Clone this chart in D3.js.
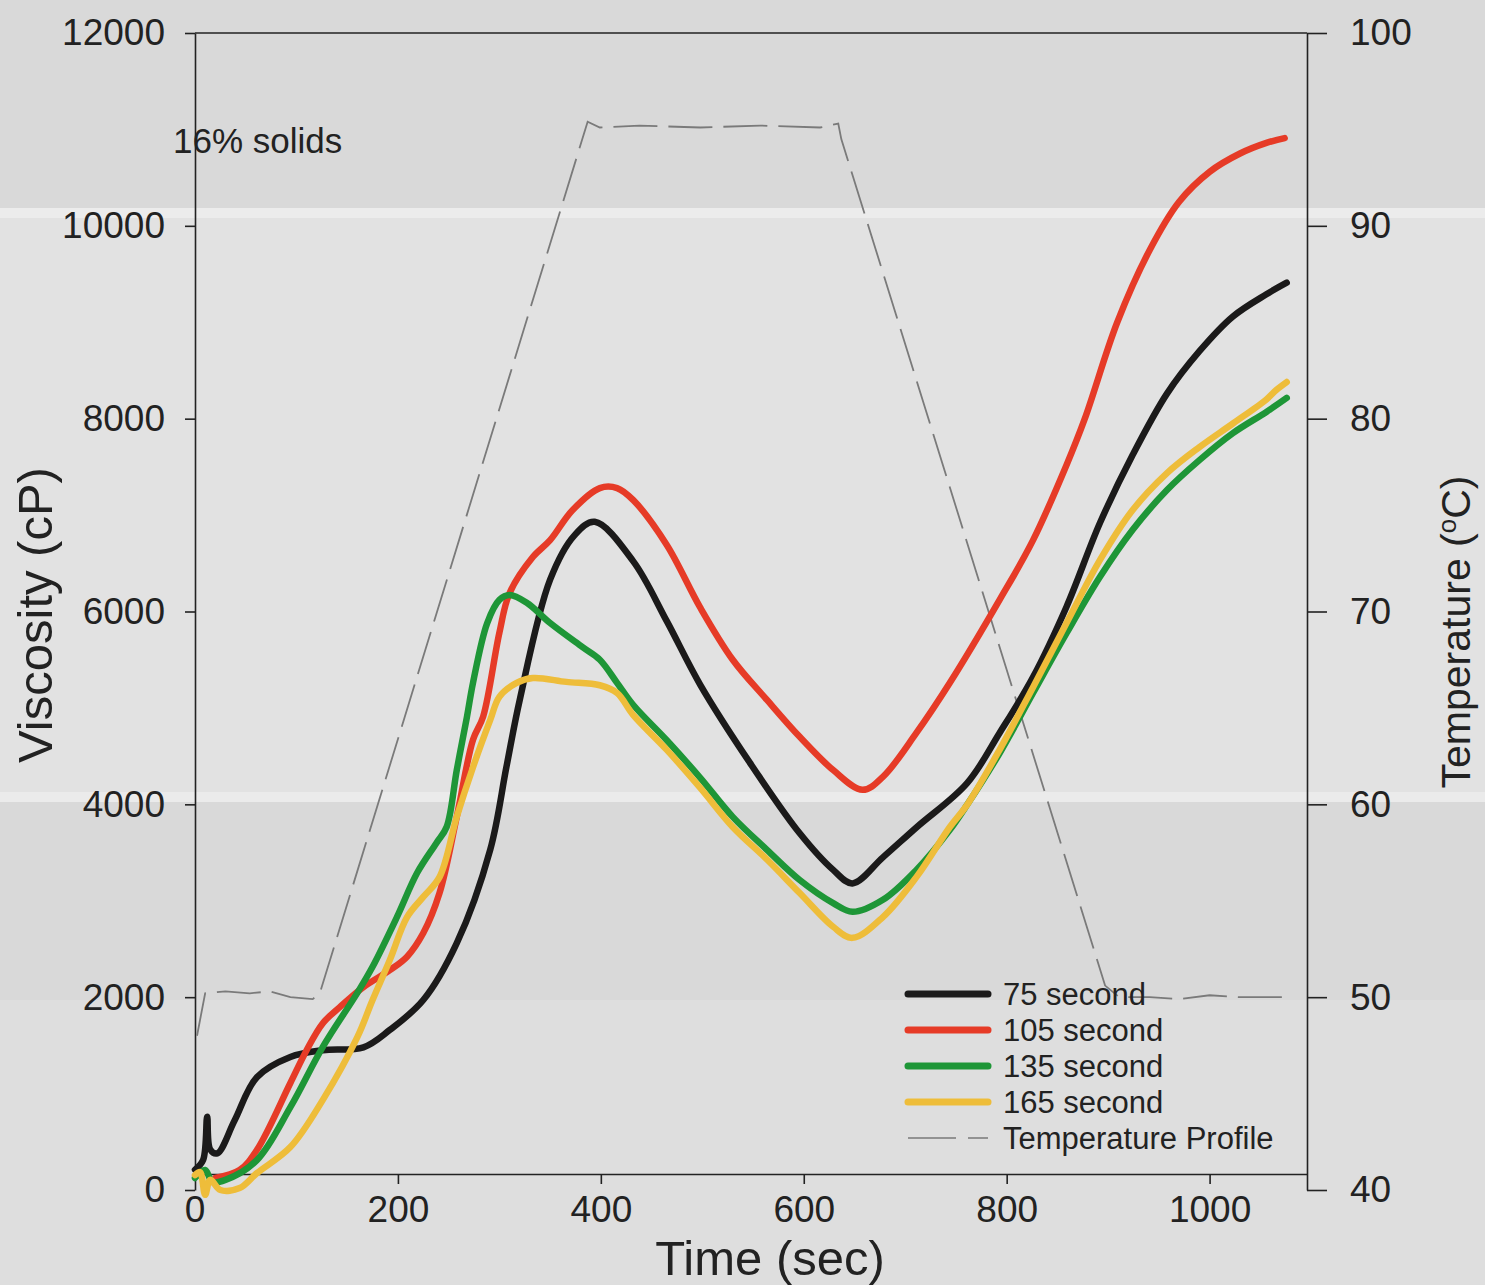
<!DOCTYPE html>
<html>
<head>
<meta charset="utf-8">
<script src="https://cdn.jsdelivr.net/npm/d3@7"></script>
<style>
  html, body { margin: 0; padding: 0; background: #dadada; }
  svg { display: block; font-family: "Liberation Sans", Arial, sans-serif; }
</style>
</head>
<body>
<div id="chart"></div>
<script>
// viscosity curves, [time (sec), viscosity (cP)]
const s75 = [[0,210],[8,310],[12,760],[15,420],[22,380],[39,720],[61,1170],[94,1380],[126,1450],[166,1480],[192,1660],[225,1970],[258,2560],[291,3530],[307,4390],[320,5080],[350,6330],[374,6790],[394,6930],[432,6520],[465,5900],[498,5240],[547,4430],[596,3700],[629,3320],[648,3180],[678,3450],[711,3760],[761,4220],[793,4740],[826,5320],[859,6050],[892,6920],[924,7620],[958,8260],[990,8700],[1023,9060],[1056,9290],[1076,9410]];
const s105 = [[20,125],[44,207],[61,415],[94,1110],[110,1450],[126,1730],[143,1900],[166,2105],[192,2280],[209,2420],[225,2665],[241,3080],[258,3870],[274,4670],[284,4910],[300,5780],[310,6190],[333,6565],[350,6740],[372,7050],[399,7280],[416,7280],[432,7155],[465,6690],[498,6040],[530,5500],[564,5080],[596,4700],[629,4355],[658,4150],[678,4285],[711,4740],[744,5260],[793,6120],[826,6740],[859,7520],[877,8000],[909,9000],[941,9750],[970,10250],[1000,10560],[1030,10750],[1056,10860],[1074,10910]];
const s135 = [[0,125],[10,207],[17,85],[30,105],[61,310],[94,860],[126,1485],[160,2045],[175,2315],[199,2830],[219,3290],[238,3600],[248,3765],[258,4355],[268,4905],[274,5260],[288,5880],[300,6120],[310,6170],[327,6090],[350,5880],[382,5630],[399,5500],[416,5260],[432,5030],[465,4665],[498,4275],[530,3870],[564,3525],[596,3215],[629,2975],[648,2885],[678,3010],[711,3320],[744,3735],[761,3995],[793,4530],[826,5155],[859,5775],[892,6360],[924,6845],[958,7260],[990,7570],[1023,7850],[1056,8070],[1076,8215]];
const s165 = [[0,155],[5,185],[10,-50],[15,105],[25,0],[44,20],[61,175],[94,445],[126,935],[160,1585],[175,1970],[192,2385],[209,2830],[225,3040],[241,3245],[258,3870],[274,4385],[291,4875],[300,5115],[317,5260],[333,5310],[366,5270],[399,5235],[416,5155],[432,4925],[465,4565],[498,4170],[530,3765],[564,3425],[596,3080],[629,2730],[648,2615],[678,2830],[711,3245],[744,3765],[761,3995],[793,4565],[826,5215],[859,5880],[892,6535],[924,7050],[958,7435],[990,7705],[1023,7950],[1056,8200],[1066,8300],[1076,8380]];
// temperature profile, [time (sec), temperature (°C)]
const temp = [[2,48.0],[10,50.2],[30,50.3],[54,50.2],[74,50.3],[94,50.0],[116,49.9],[123,50.2],[387,95.4],[399,95.1],[438,95.2],[498,95.1],[557,95.2],[616,95.1],[634,95.3],[637,94.5],[897,50.6],[911,50.0],[941,50.0],[970,49.9],[1000,50.1],[1030,50.0],[1079,50.0]];

const seriesNames = ["75 second", "105 second", "135 second", "165 second"];
const seriesColors = ["#1b1a1a", "#e63b27", "#1e9637", "#eebd3a"];
const viscTicks = [0, 2000, 4000, 6000, 8000, 10000, 12000];
const timeTicks = [0, 200, 400, 600, 800, 1000];
const tempTicks = [40, 50, 60, 70, 80, 90, 100];

const W = 1485, H = 1285;
const plotLeft = 195, plotRight = 1307, plotTop = 33, plotBottom = 1190, xAxisY = 1174;

const svg = d3.select("#chart").append("svg")
  .attr("width", W).attr("height", H);

// scanned page background
svg.append("rect").attr("width", W).attr("height", H).attr("fill", "#d9d9d9");
svg.append("rect").attr("x", 0).attr("y", 208).attr("width", W).attr("height", 594).attr("fill", "#e2e2e2");
svg.append("rect").attr("x", 0).attr("y", 208).attr("width", W).attr("height", 10).attr("fill", "#ececec");
svg.append("rect").attr("x", 0).attr("y", 792).attr("width", W).attr("height", 10).attr("fill", "#ebebeb");
svg.append("rect").attr("x", 0).attr("y", 1000).attr("width", W).attr("height", 285).attr("fill", "#dedede");

const x = d3.scaleLinear().domain([0, 1096]).range([plotLeft, plotRight]);
const y = d3.scaleLinear().domain([0, 12000]).range([plotBottom, plotTop]);
const yT = d3.scaleLinear().domain([40, 100]).range([plotBottom, plotTop]);

// axes
const fmt = d3.format("d");
const gl = svg.append("g").attr("transform", `translate(${plotLeft},0)`)
  .call(d3.axisLeft(y).tickValues(viscTicks).tickFormat(fmt).tickSize(10).tickSizeOuter(0).tickPadding(20));
const gr = svg.append("g").attr("transform", `translate(${plotRight},0)`)
  .call(d3.axisRight(yT).tickValues(tempTicks).tickFormat(fmt).tickSize(20).tickSizeOuter(0).tickPadding(23));
const gb = svg.append("g").attr("transform", `translate(0,${xAxisY})`)
  .call(d3.axisBottom(x).tickValues(timeTicks.slice(1)).tickFormat(fmt).tickSize(10).tickSizeOuter(0).tickPadding(12));
// label for 0 on the time axis
gb.append("text").attr("x", x(0)).attr("y", 22).attr("dy", "0.71em")
  .attr("text-anchor", "middle").text("0");

svg.append("line").attr("x1", plotLeft).attr("x2", plotRight).attr("y1", plotTop).attr("y2", plotTop)
  .attr("stroke", "#222").attr("stroke-width", 1.6);

[gl, gr, gb].forEach(g => {
  g.selectAll("path, line").attr("stroke", "#222").attr("stroke-width", 1.6);
  g.selectAll("text").attr("font-size", 37).attr("fill", "#222")
    .attr("font-family", "Liberation Sans, Arial, sans-serif");
});
gb.selectAll("text").attr("dy", "0.71em");

// axis titles
svg.append("text").attr("x", 770).attr("y", 1275).attr("text-anchor", "middle")
  .attr("font-size", 49).attr("fill", "#222").text("Time (sec)");
svg.append("text").attr("transform", "translate(52,615) rotate(-90)").attr("text-anchor", "middle")
  .attr("font-size", 49).attr("fill", "#222").text("Viscosity (cP)");
const tt = svg.append("text").attr("transform", "translate(1470,632) rotate(-90)").attr("text-anchor", "middle")
  .attr("font-size", 41).attr("fill", "#222");
tt.append("tspan").text("Temperature (");
tt.append("tspan").attr("font-size", 26).attr("dy", -14).text("o");
tt.append("tspan").attr("dy", 14).text("C)");

svg.append("text").attr("x", 173).attr("y", 153).attr("font-size", 35).attr("fill", "#222").text("16% solids");

// temperature profile
const tLine = d3.line().x(d => x(d[0])).y(d => yT(d[1]));
svg.append("path").datum(temp).attr("d", tLine)
  .attr("fill", "none").attr("stroke", "#7a7a7a").attr("stroke-width", 1.8)
  .attr("stroke-dasharray", "44,11");

// viscosity curves
const vLine = d3.line().x(d => x(d[0])).y(d => y(d[1])).curve(d3.curveCatmullRom.alpha(0.5));
[s75, s105, s135, s165].forEach((s, i) => {
  svg.append("path").datum(s).attr("d", vLine)
    .attr("fill", "none").attr("stroke", seriesColors[i]).attr("stroke-width", 6.5)
    .attr("stroke-linejoin", "round").attr("stroke-linecap", "round");
});

// legend
const lg = svg.append("g").attr("transform", "translate(908,994)");
seriesNames.forEach((n, i) => {
  const row = lg.append("g").attr("transform", `translate(0,${i * 36})`);
  row.append("line").attr("x1", 0).attr("x2", 80).attr("stroke", seriesColors[i])
    .attr("stroke-width", 7).attr("stroke-linecap", "round");
  row.append("text").attr("x", 95).attr("dy", "0.35em").attr("font-size", 31).attr("fill", "#222").text(n);
});
const trow = lg.append("g").attr("transform", `translate(0,${4 * 36})`);
trow.append("line").attr("x1", 0).attr("x2", 80).attr("stroke", "#7a7a7a")
  .attr("stroke-width", 1.6).attr("stroke-dasharray", "48,12");
trow.append("text").attr("x", 95).attr("dy", "0.35em").attr("font-size", 31).attr("fill", "#222").text("Temperature Profile");
</script>
</body>
</html>
